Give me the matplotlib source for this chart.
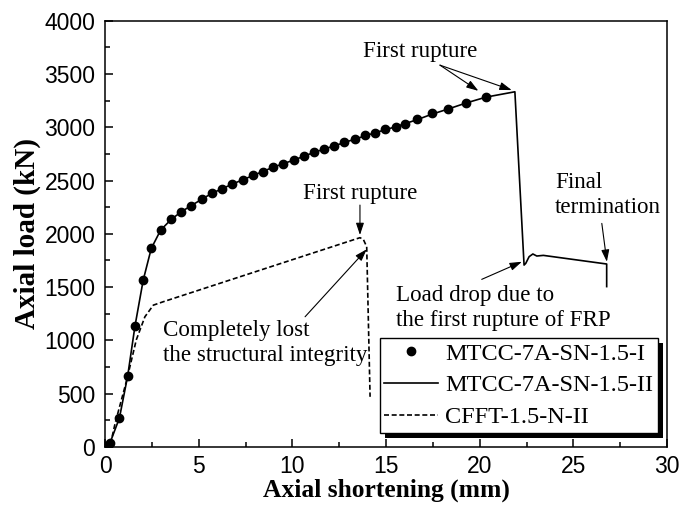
import matplotlib
matplotlib.use("Agg")
import matplotlib.pyplot as plt
from matplotlib.patches import Rectangle
from matplotlib.ticker import MultipleLocator

# Test I: measured points (mm, kN)
test1_x = [0.02, 0.26, 0.77, 1.21, 1.60, 2.04, 2.47, 2.97, 3.53, 4.04, 4.59, 5.16,
           5.69, 6.23, 6.80, 7.35, 7.91, 8.44, 8.99, 9.52, 10.09, 10.63, 11.15,
           11.71, 12.24, 12.77, 13.34, 13.88, 14.42, 14.95, 15.52, 16.01, 16.67,
           17.44, 18.33, 19.28, 20.34]
test1_y = [5, 35, 272, 666, 1135, 1566, 1863, 2035, 2135, 2203, 2264, 2323,
           2379, 2423, 2467, 2508, 2548, 2585, 2626, 2660, 2693, 2730, 2764,
           2798, 2826, 2858, 2889, 2924, 2949, 2980, 3005, 3030, 3077,
           3131, 3171, 3224, 3280]

# Test II: continuous curve
test2_x = [0.0, 0.02, 0.26, 0.77, 1.21, 1.60, 2.04, 2.47, 2.97, 3.53, 4.04, 4.59,
           5.69, 6.80, 7.91, 8.99, 10.09, 11.15, 12.24, 13.34, 14.42, 15.52,
           16.67, 17.44, 18.33, 19.28, 20.34, 21.88, 22.37, 22.46, 22.64, 22.84,
           23.05, 23.40, 26.78, 26.78]
test2_y = [0, 5, 35, 272, 666, 1135, 1566, 1863, 2035, 2135, 2203, 2264,
           2379, 2467, 2548, 2626, 2693, 2764, 2826, 2889, 2949, 3005,
           3072, 3122, 3172, 3228, 3283, 3333, 1707, 1723, 1786, 1811,
           1792, 1798, 1717, 1505]

# CFFT reference column
cfft_x = [0.0, 0.26, 0.54, 1.16, 1.67, 2.13, 2.58, 3.11, 13.61, 13.79, 13.97, 14.15]
cfft_y = [0, 2, 222, 628, 1005, 1222, 1331, 1363, 1964, 1948, 1879, 471]

labels = ["MTCC-7A-SN-1.5-I", "MTCC-7A-SN-1.5-II", "CFFT-1.5-N-II"]

serif = "Liberation Serif"
sans = "Liberation Sans"

fig = plt.figure(figsize=(6.81, 5.11), dpi=100)
ax = fig.add_axes([105 / 681, 64 / 511, 562 / 681, 426.3 / 511])

ax.plot(test1_x, test1_y, "o", color="k", markersize=6, label=labels[0])
ax.plot(test2_x, test2_y, "-", color="k", lw=1.2, label=labels[1])
ax.plot(cfft_x, cfft_y, color="k", lw=1.2, linestyle=(0, (3, 1.6)), label=labels[2])

ax.set_xlim(0, 30)
ax.set_ylim(0, 4000)
ax.xaxis.set_major_locator(MultipleLocator(5))
ax.xaxis.set_minor_locator(MultipleLocator(2.5))
ax.yaxis.set_major_locator(MultipleLocator(500))
ax.yaxis.set_minor_locator(MultipleLocator(250))
ax.tick_params(which="both", direction="in", top=False, right=False, width=1.1)
ax.tick_params(which="major", length=6)
ax.tick_params(which="minor", length=3.5)
ax.tick_params(axis="x", pad=6)
ax.tick_params(axis="y", pad=7)
for lab in ax.get_xticklabels() + ax.get_yticklabels():
    lab.set_fontfamily(sans)
    lab.set_fontsize(16.5)
for sp in ax.spines.values():
    sp.set_linewidth(1.1)

ax.set_xlabel("Axial shortening (mm)", fontfamily=serif, fontweight="bold",
              fontsize=18.4, labelpad=0)
ax.set_ylabel("Axial load (kN)", fontfamily=serif, fontweight="bold",
              fontsize=21, labelpad=2)

arrow = dict(arrowstyle="-|>,head_length=0.6,head_width=0.2", color="k",
             lw=0.8, mutation_scale=12, shrinkA=0, shrinkB=0)
txt = dict(fontfamily=serif, fontsize=16.6)

# first rupture of the MTCC column (two arrows)
ax.text(16.82, 3715, "First rupture", ha="center", va="center", **txt)
ax.annotate("", xy=(19.93, 3342), xytext=(17.88, 3583), arrowprops=arrow)
ax.annotate("", xy=(21.71, 3349), xytext=(17.88, 3583), arrowprops=arrow)

# first rupture of the CFFT column
ax.text(13.6, 2383, "First rupture", ha="center", va="center", **txt)
ax.annotate("", xy=(13.61, 1989), xytext=(13.61, 2270), arrowprops=arrow)

ax.text(3.10, 976, "Completely lost\nthe structural integrity", ha="left",
        va="center", **txt)
ax.annotate("", xy=(13.97, 1855), xytext=(10.68, 1222), arrowprops=arrow)

ax.text(24.03, 2364, "Final\ntermination", ha="left", va="center", **txt)
ax.annotate("", xy=(26.79, 1738), xytext=(26.52, 2098), arrowprops=arrow)

ax.text(15.54, 1304, "Load drop due to\nthe first rupture of FRP", ha="left",
        va="center", **txt)
ax.annotate("", xy=(22.25, 1738), xytext=(20.11, 1573), arrowprops=arrow)

leg = ax.legend(loc="lower right", bbox_to_anchor=(0.984, 0.033),
                borderaxespad=0, fancybox=False, framealpha=1, edgecolor="k",
                prop={"family": serif, "size": 17.5}, numpoints=1,
                handlelength=2.2, handletextpad=0.3, borderpad=0.2,
                labelspacing=0.4)
leg.get_frame().set_linewidth(1.0)

# solid drop shadow behind the legend box
fig.canvas.draw()
bb = leg.get_window_extent()
shadow = Rectangle((bb.x0 + 5, bb.y0 - 5), bb.width, bb.height,
                   transform=None, facecolor="k", edgecolor="none",
                   zorder=leg.get_zorder() - 0.1)
ax.add_artist(shadow)

fig.savefig("out.png", dpi=100)
